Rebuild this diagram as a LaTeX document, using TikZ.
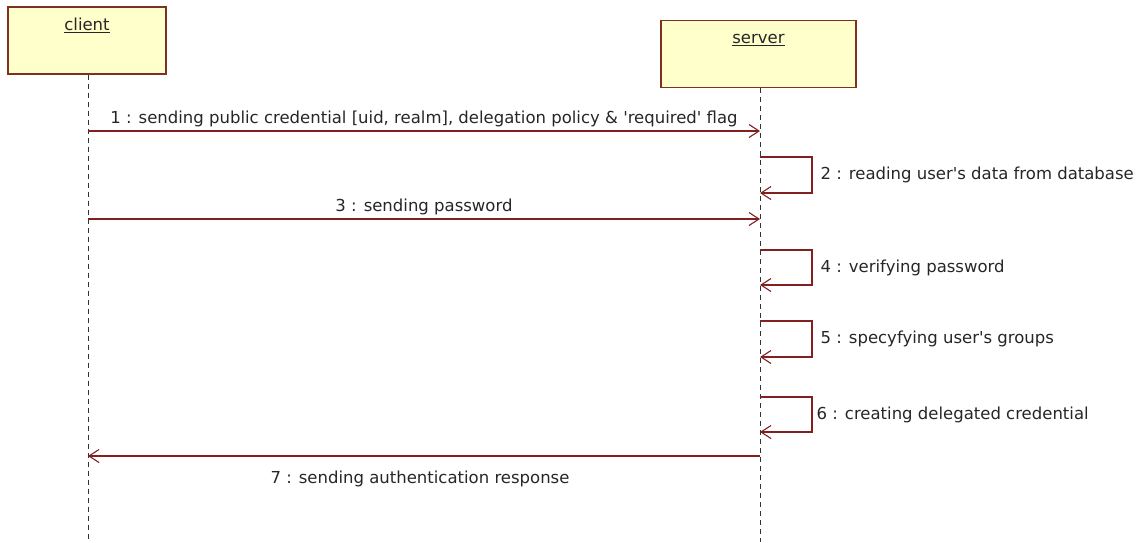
\documentclass[tikz,border=0pt]{standalone}
\usepackage{fontspec}
\setmainfont{DejaVu Sans}
\usetikzlibrary{arrows.meta}
\definecolor{msgred}{RGB}{128,32,32}
\definecolor{objfill}{RGB}{255,255,204}
\definecolor{objedge}{RGB}{128,48,32}
\newcommand{\q}{\textquotesingle}
\begin{document}
\begin{tikzpicture}[x=1pt,y=-1pt,
  objbox/.style={draw=objedge,fill=objfill,line width=1.4pt,minimum width=158pt,minimum height=67pt,inner sep=0pt},
  lifeline/.style={draw=black!80,dash pattern=on 5pt off 4pt,line width=1pt},
  msg/.style={draw=msgred,line width=1.3pt,-{Straight Barb[length=10pt,width=13pt,line width=1.1pt]}},
  lbl/.style={font=\fontsize{16.5}{19}\selectfont,inner sep=0pt,text=black!85}]
\useasboundingbox (0,0) rectangle (1145,542);
% objects
\node[objbox] (client) at (87,40.5) {};
\node[lbl,anchor=center] at ([yshift=-19pt]client.north) {\underline{client}};
\node[objbox,minimum width=195pt] (server) at (758.5,54) {};
\node[lbl,anchor=center] at ([yshift=-20pt]server.north) {\underline{server}};
% lifelines
\coordinate (cend) at (88,542);
\coordinate (send) at (760,542);
\draw[lifeline] (client.south -| cend) -- (cend);
\draw[lifeline] (server.south -| send) -- (send);
% message anchors on the lifelines
\coordinate (c1) at (88,131);  \coordinate (s1) at (760,131);
\coordinate (c3) at (88,219);  \coordinate (s3) at (760,219);
\coordinate (c7) at (88,456);  \coordinate (s7) at (760,456);
% 1
\draw[msg] (c1) -- node[lbl,above=3pt] {1 : sending public credential [uid, realm], delegation policy \& \q required\q{} flag} (s1);
% 2
\coordinate (a2) at (760,157); \coordinate (b2) at (760,193);
\draw[msg] (a2) -- (812,157) -- node[lbl,right=8pt] {2 : reading user\q s data from database} (812,193) -- (b2);
% 3
\draw[msg] (c3) -- node[lbl,above=3pt] {3 : sending password} (s3);
% 4
\coordinate (a4) at (760,250); \coordinate (b4) at (760,285);
\draw[msg] (a4) -- (812,250) -- node[lbl,right=8pt] {4 : verifying password} (812,285) -- (b4);
% 5
\coordinate (a5) at (760,321); \coordinate (b5) at (760,357);
\draw[msg] (a5) -- (812,321) -- node[lbl,right=8pt] {5 : specyfying user\q s groups} (812,357) -- (b5);
% 6
\coordinate (a6) at (760,397); \coordinate (b6) at (760,432);
\draw[msg] (a6) -- (812,397) -- node[lbl,right=4pt] {6 : creating delegated credential} (812,432) -- (b6);
% 7
\draw[msg] (s7) -- node[lbl,below=14pt,xshift=-4pt] {7 : sending authentication response} (c7);
\end{tikzpicture}
\end{document}
